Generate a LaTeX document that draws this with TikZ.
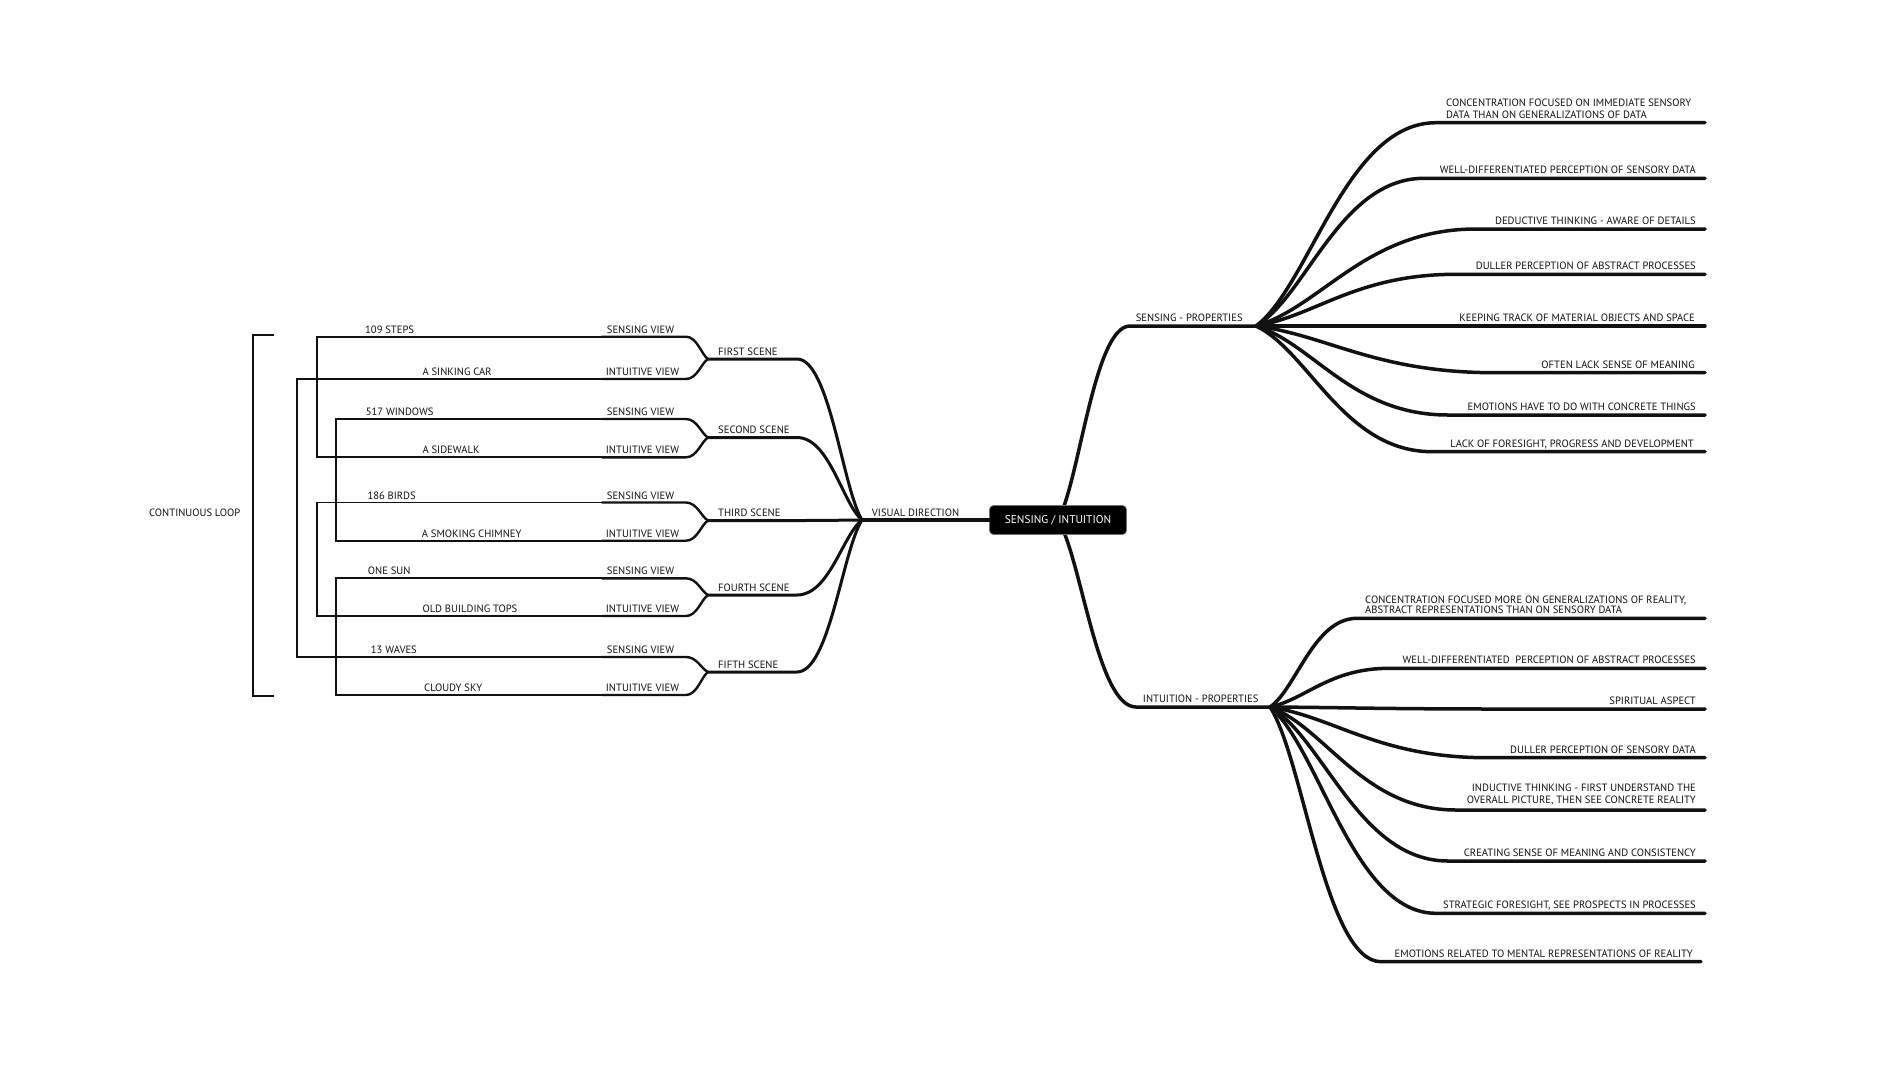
\documentclass[tikz,border=0pt]{standalone}
\usepackage{fontspec}
\setmainfont{PT Sans}
\usetikzlibrary{calc,backgrounds}
\definecolor{ink}{HTML}{111111}
\newcommand\mmbranch[4][]{%
  \draw[#1] let \p1=(#2), \p2=(#3) in (#2) .. controls ({\x1+0.3*(\x2-\x1)},{\y1+0.2*(\y2-\y1)}) and ({\x2-0.5*(\x2-\x1)},\y2) .. (#3) -- (#4);}
\begin{document}
\begin{tikzpicture}[x=1pt,y=-1pt,
  lbl/.style={font=\fontsize{10.6}{11.8}\selectfont, inner sep=0pt, text=ink},
  mainbr/.style={draw=ink, line width=3.5pt, line cap=round},
  scenebr/.style={draw=ink, line width=3pt, line cap=round},
  viewbr/.style={draw=ink, line width=2.4pt, line cap=round},
  thinln/.style={draw=ink, line width=1.7pt, line join=miter},
  brk/.style={draw=ink, line width=2pt, line join=miter},
  rootbox/.style={fill=black, draw=black!55, line width=0.8pt, rounded corners=4pt, minimum width=137pt, minimum height=29pt, inner sep=0pt, text=white, font=\fontsize{11.3}{12}\selectfont}]
\begin{pgfonlayer}{background}
\fill[white] (0,0) rectangle (1900,1080);
\end{pgfonlayer}
\useasboundingbox (0,0) rectangle (1900,1080);

% root
\node[rootbox] (root) at (1058,520) {SENSING / INTUITION};
\coordinate (vd) at (862,520);
\coordinate (spA) at (1130,326); \coordinate (sp) at (1256,326);
\coordinate (ipA) at (1136,707); \coordinate (ip) at (1270,707);
\begin{pgfonlayer}{background}
\mmbranch[mainbr]{root.center}{spA}{sp}
\mmbranch[mainbr]{root.center}{ipA}{ip}
\end{pgfonlayer}
\draw[mainbr] (vd) -- (root);
\node[lbl, anchor=base west] (vdl) at (871.7,516) {VISUAL DIRECTION};
\node[lbl, anchor=base west] (spl) at (1135.6,321.5) {SENSING - PROPERTIES};
\node[lbl, anchor=base west] (ipl) at (1142.7,702.5) {INTUITION - PROPERTIES};

% sensing properties
\foreach \k/\xs/\yy in {1/1436/122.7, 2/1424/178.3, 3/1476/229, 4/1456/274.3, 5/1500/326, 6/1495/372.7, 7/1448/415, 8/1432/451.7}{
  \coordinate (s\k s) at (\xs,\yy);
  \coordinate (s\k e) at (1705,\yy);
  \mmbranch[mainbr]{sp}{s\k s}{s\k e}
}
\node[lbl, anchor=south west, align=left] (s1l) at (1446,118.6) {CONCENTRATION FOCUSED ON IMMEDIATE SENSORY\\DATA THAN ON GENERALIZATIONS OF DATA};
\node[lbl, anchor=base east] (s2l) at (1696,173.8) {WELL-DIFFERENTIATED PERCEPTION OF SENSORY DATA};
\node[lbl, anchor=base east] (s3l) at (1696,224.5) {DEDUCTIVE THINKING - AWARE OF DETAILS};
\node[lbl, anchor=base east] (s4l) at (1696,269.8) {DULLER PERCEPTION OF ABSTRACT PROCESSES};
\node[lbl, anchor=base east] (s5l) at (1695,321.2) {KEEPING TRACK OF MATERIAL OBJECTS AND SPACE};
\node[lbl, anchor=base east] (s6l) at (1695,368.2) {OFTEN LACK SENSE OF MEANING};
\node[lbl, anchor=base east] (s7l) at (1696,410.5) {EMOTIONS HAVE TO DO WITH CONCRETE THINGS};
\node[lbl, anchor=base east] (s8l) at (1694,447.2) {LACK OF FORESIGHT, PROGRESS AND DEVELOPMENT};

% intuition properties
\foreach \k/\xs/\yy/\xe in {1/1357/618.3/1705, 2/1389/668.3/1705, 3/1500/709/1705, 4/1487/757.7/1705, 5/1456/810/1705, 6/1448/861/1705, 7/1436/913.3/1705, 8/1381/961.7/1701}{
  \coordinate (i\k s) at (\xs,\yy);
  \coordinate (i\k e) at (\xe,\yy);
  \mmbranch[mainbr]{ip}{i\k s}{i\k e}
}
\node[lbl, anchor=south west, align=left] (i1l) at (1365,614) {CONCENTRATION FOCUSED MORE ON GENERALIZATIONS OF REALITY,\\[-1.5pt]ABSTRACT REPRESENTATIONS THAN ON SENSORY DATA};
\node[lbl, anchor=base east] (i2l) at (1696,663.8) {WELL-DIFFERENTIATED\ \ PERCEPTION OF ABSTRACT PROCESSES};
\node[lbl, anchor=base east] (i3l) at (1696,704.5) {SPIRITUAL ASPECT};
\node[lbl, anchor=base east] (i4l) at (1696,753.2) {DULLER PERCEPTION OF SENSORY DATA};
\node[lbl, anchor=south east, align=right] (i5l) at (1696,805.5) {INDUCTIVE THINKING - FIRST UNDERSTAND THE\\OVERALL PICTURE, THEN SEE CONCRETE REALITY};
\node[lbl, anchor=base east] (i6l) at (1696,856.5) {CREATING SENSE OF MEANING AND CONSISTENCY};
\node[lbl, anchor=base east] (i7l) at (1696,908.8) {STRATEGIC FORESIGHT, SEE PROSPECTS IN PROCESSES};
\node[lbl, anchor=base east] (i8l) at (1693,957.2) {EMOTIONS RELATED TO MENTAL REPRESENTATIONS OF REALITY};

% scenes
\foreach \k/\yy/\nm in {1/359/FIRST SCENE, 2/437.5/SECOND SCENE, 3/520.5/THIRD SCENE, 4/595/FOURTH SCENE, 5/672/FIFTH SCENE}{
  \coordinate (sj\k) at (708,\yy);
  \coordinate (sc\k) at (797,\yy);
  \mmbranch[scenebr]{vd}{sc\k}{sj\k}
  \node[lbl, anchor=base west] (scl\k) at (718,\yy-4) {\nm};
}

% views
\foreach \k/\ys/\yi in {1/336.7/379, 2/419/457.3, 3/502.5/540.7, 4/578.3/616, 5/657/695}{
  \coordinate (vs\k c) at (686,\ys);
  \coordinate (vs\k) at (602,\ys);
  \coordinate (vi\k c) at (686,\yi);
  \coordinate (vi\k) at (602,\yi);
  \mmbranch[viewbr]{sj\k}{vs\k c}{vs\k}
  \mmbranch[viewbr]{sj\k}{vi\k c}{vi\k}
  \node[lbl, anchor=base west] (vsl\k) at (606.7,\ys-3.5) {SENSING VIEW};
  \node[lbl, anchor=base west] (vil\k) at (605.7,\yi-3.5) {INTUITIVE VIEW};
}

% loop connectors
\coordinate (xa) at (317,0);
\coordinate (xb) at (297,0);
\coordinate (xc) at (336,0);
\draw[thinln] (vs1) -- (vs1 -| xa) -- (vi2 -| xa) -- (vi2);
\draw[thinln] (vi1) -- (vi1 -| xb) -- (vs5 -| xb) -- (vs5);
\draw[thinln] (vs2) -- (vs2 -| xc) -- (vi3 -| xc) -- (vi3);
\draw[thinln] (vs3) -- (vs3 -| xa) -- (vi4 -| xa) -- (vi4);
\draw[thinln] (vs4) -- (vs4 -| xc) -- (vi5 -| xc) -- (vi5);

\node[lbl, anchor=base west] (l1) at (365,333.2) {109 STEPS};
\node[lbl, anchor=base west] (l2) at (422.3,375.5) {A SINKING CAR};
\node[lbl, anchor=base west] (l3) at (365.7,415.5) {517 WINDOWS};
\node[lbl, anchor=base west] (l4) at (422.3,453.8) {A SIDEWALK};
\node[lbl, anchor=base west] (l5) at (367.3,499) {186 BIRDS};
\node[lbl, anchor=base west] (l6) at (421.7,537.2) {A SMOKING CHIMNEY};
\node[lbl, anchor=base west] (l7) at (367.7,574.8) {ONE SUN};
\node[lbl, anchor=base west] (l8) at (422.3,612.5) {OLD BUILDING TOPS};
\node[lbl, anchor=base west] (l9) at (370.7,653.5) {13 WAVES};
\node[lbl, anchor=base west] (l10) at (424,691.5) {CLOUDY SKY};

% bracket
\coordinate (bt) at (274.3,335);
\coordinate (bb) at (274.3,696);
\coordinate (bx) at (253.3,0);
\draw[brk] (bt) -- (bt -| bx) -- (bb -| bx) -- (bb);
\node[lbl] (cl) at (194.7,513) {CONTINUOUS LOOP};
\end{tikzpicture}
\end{document}
